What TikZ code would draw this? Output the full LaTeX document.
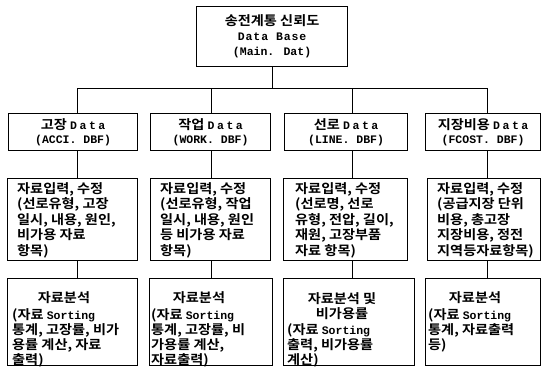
\documentclass[tikz,border=0pt]{standalone}
\usepackage{fontspec}
\setmainfont{Noto Sans CJK KR}[FakeStretch=1.09, BoldFont={Noto Sans CJK KR Bold}]
\newfontfamily\latfont{Liberation Mono}[BoldFont={Liberation Mono Bold}]
\newfontfamily\latwide{Liberation Mono}[BoldFont={Liberation Mono Bold}, LetterSpace=22]
\newfontfamily\latmid{Liberation Mono}[BoldFont={Liberation Mono Bold}, LetterSpace=8]
\newcommand\la[1]{{\latfont\bfseries\fontsize{11.5}{15}\selectfont #1}}
\newcommand\law[1]{{\latwide\bfseries\fontsize{11.5}{15}\selectfont #1}}
\newcommand\lam[1]{{\latmid\bfseries\fontsize{11.5}{15}\selectfont #1}}
\begin{document}
\begin{tikzpicture}[x=1pt,y=-1pt,
  every node/.style={font=\bfseries\fontsize{13}{15.6}\selectfont},
  frame/.style={draw, line width=1.2pt, anchor=north west, inner sep=0pt},
  titlebox/.style={frame, align=center},
  txt/.style={anchor=north west, inner sep=0pt, align=left},
  txtb/.style={txt, font=\bfseries\fontsize{13}{15.2}\selectfont},
  head/.style={inner sep=0pt, align=center, font=\bfseries\fontsize{13}{15.2}\selectfont},
  conn/.style={line width=1pt}]
\useasboundingbox (0,0) rectangle (542,368);
% top
\node[titlebox, minimum width=151pt, minimum height=60pt, font=\bfseries\fontsize{13}{15}\selectfont] (top) at (196,6)
  {송전계통 신뢰도\\ \lam{Data Base}\\ \la{(Main. Dat)}};
% level 2
\node[titlebox, minimum width=129pt, minimum height=37pt] (a2) at (8,113)
  {고장 \law{Data}\\[-2pt] \la{(ACCI. DBF)}};
\node[titlebox, minimum width=120pt, minimum height=37pt] (b2) at (150,113)
  {작업 \law{Data}\\[-2pt] \la{(WORK. DBF)}};
\node[titlebox, minimum width=123pt, minimum height=37pt] (c2) at (284,113)
  {선로 \law{Data}\\[-2pt] \la{(LINE. DBF)}};
\node[titlebox, minimum width=115pt, minimum height=37pt] (d2) at (425,113)
  {지장비용 \law{Data}\\[-2pt] \la{(FCOST. DBF)}};
% level 3 frames
\node[frame, minimum width=130pt, minimum height=82pt] (a3) at (7,178) {};
\node[frame, minimum width=120pt, minimum height=82pt] (b3) at (150,178) {};
\node[frame, minimum width=124pt, minimum height=82pt] (c3) at (283,178) {};
\node[frame, minimum width=113pt, minimum height=82pt] (d3) at (427,178) {};
% level 3 texts
\node[txt] (a3t) at (17,182)
  {자료입력, 수정\\(선로유형, 고장\\일시, 내용, 원인,\\비가용 자료\\항목)};
\node[txt] (b3t) at (160,182)
  {자료입력, 수정\\(선로유형, 작업\\일시, 내용, 원인\\등 비가용 자료\\항목)};
\node[txt] (c3t) at (295,182)
  {자료입력, 수정\\(선로명, 선로\\유형, 전압, 길이,\\재원, 고장부품\\자료 항목)};
\node[txt] (d3t) at (437,182)
  {자료입력, 수정\\(공급지장 단위\\비용, 총고장\\지장비용, 정전\\지역등자료항목)};
% level 4 frames
\node[frame, minimum width=130pt, minimum height=87pt] (a4) at (7,278) {};
\node[frame, minimum width=123pt, minimum height=87pt] (b4) at (149,278) {};
\node[frame, minimum width=131pt, minimum height=87pt] (c4) at (283,278) {};
\node[frame, minimum width=115pt, minimum height=87pt] (d4) at (425,278) {};
% level 4 texts
\node[head] (a4h) at (64,298) {자료분석};
\node[txtb] (a4t) at (12,308)
  {(자료 \la{Sorting}\\통계, 고장률, 비가\\용률 계산, 자료\\출력)};
\node[head] (b4h) at (199,298) {자료분석};
\node[txtb] (b4t) at (151,308)
  {(자료 \la{Sorting}\\통계, 고장률, 비\\가용률 계산,\\자료출력)};
\node[head, anchor=north] (c4h) at (342,292) {자료분석 및\\비가용률};
\node[txtb] (c4t) at (287,323)
  {(자료 \la{Sorting}\\출력, 비가용률\\계산)};
\node[head] (d4h) at (475,298) {자료분석};
\node[txtb] (d4t) at (428,308)
  {(자료 \la{Sorting}\\통계, 자료출력\\등)};
% connectors
\coordinate (bus) at (0,88);
\coordinate (ca) at (77,0);
\coordinate (cb) at (211,0);
\coordinate (cc) at (352,0);
\coordinate (cd) at (487,0);
\draw[conn] (top.south) -- (top.south |- bus);
\draw[conn] (bus -| ca) -- (bus -| cd);
\foreach \c/\n in {ca/a,cb/b,cc/c,cd/d}{
  \draw[conn] (bus -| \c) -- (\n2.north -| \c);
  \draw[conn] (\n2.south -| \c) -- (\n3.north -| \c);
  \draw[conn] (\n3.south -| \c) -- (\n4.north -| \c);
}
\end{tikzpicture}
\end{document}
